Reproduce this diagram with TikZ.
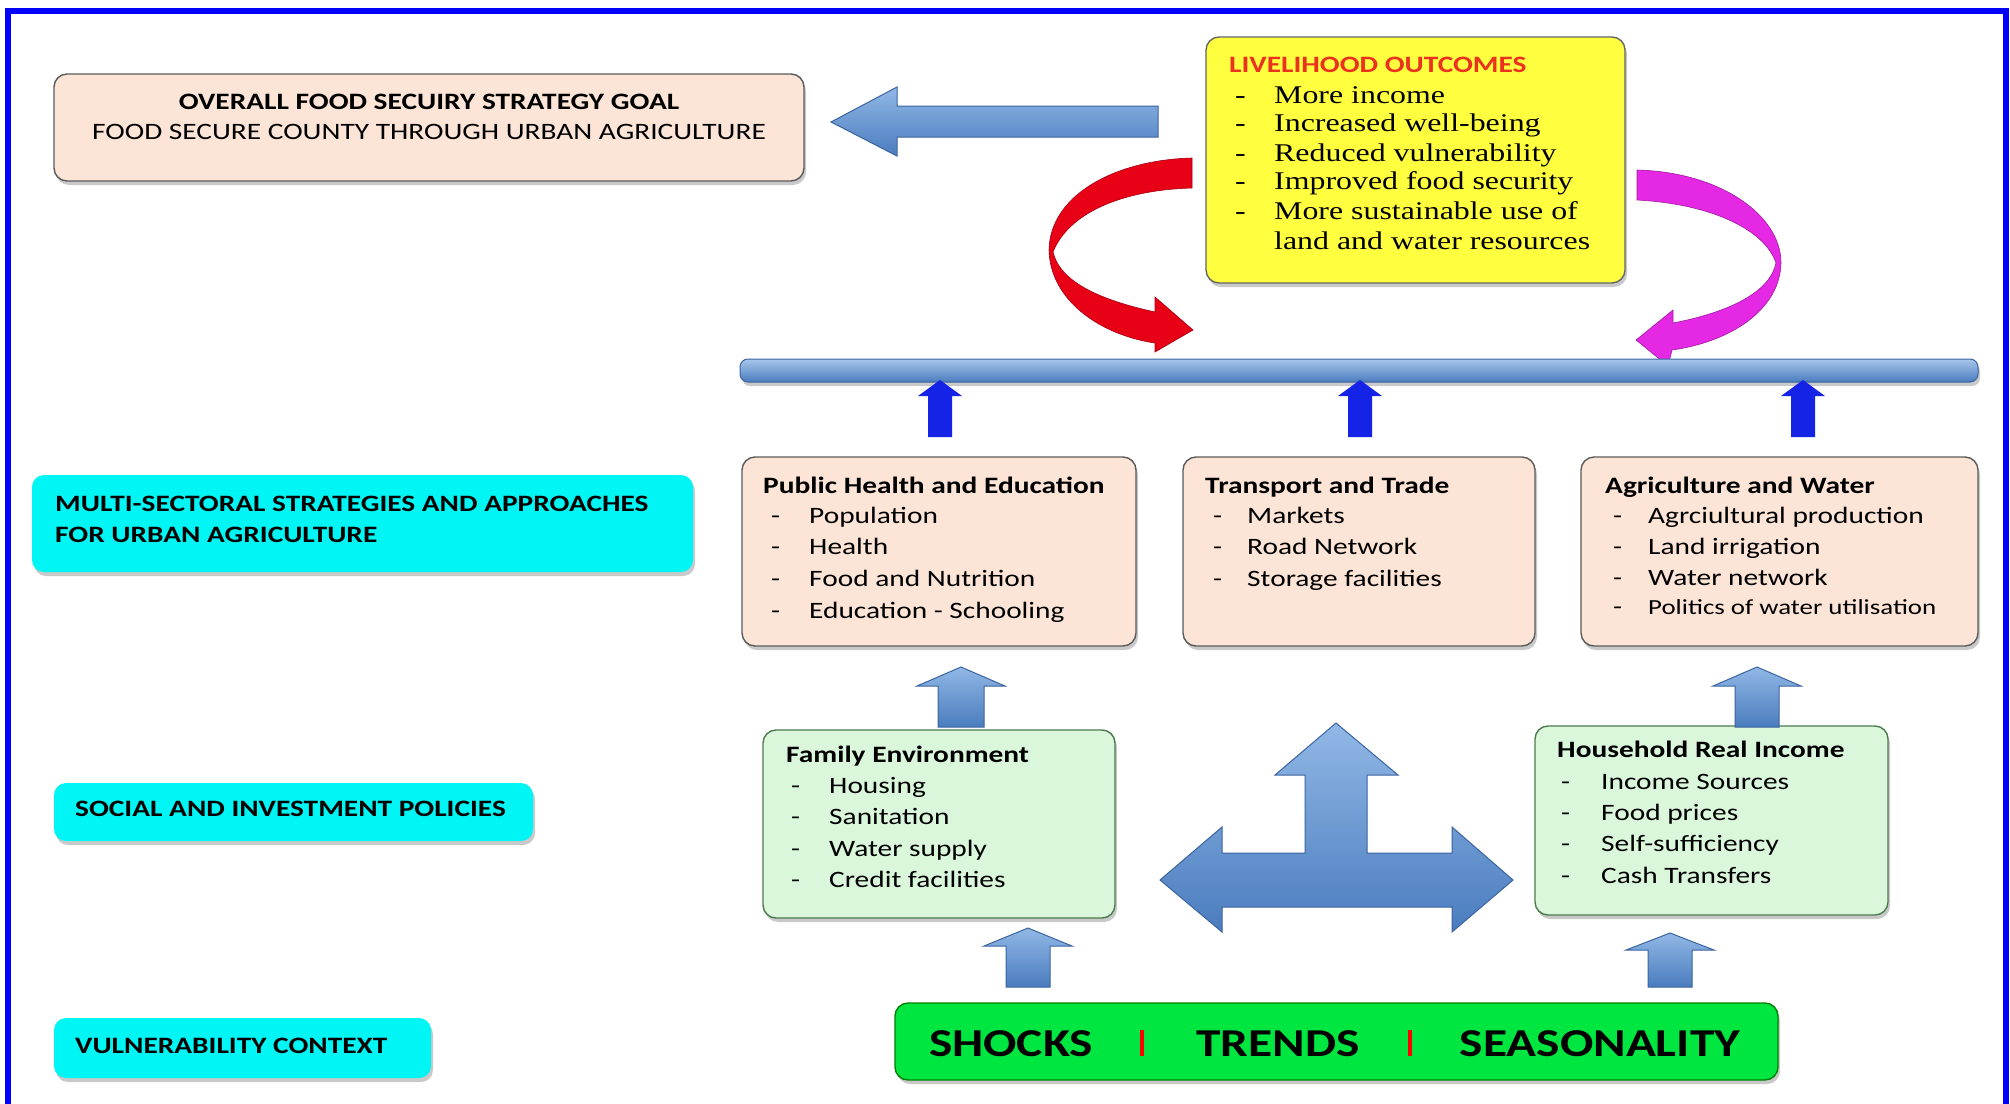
\documentclass[tikz,border=0pt]{standalone}
\usepackage{fontspec}
\setmainfont{Carlito}
\newfontfamily\seriffont{Liberation Serif}
\usepackage{graphicx}
\usetikzlibrary{shadows}
\definecolor{peach}{RGB}{252,228,214}
\definecolor{mint}{RGB}{218,247,220}
\definecolor{lemon}{RGB}{255,255,64}
\definecolor{aqua}{RGB}{0,245,245}
\definecolor{lime}{RGB}{0,230,64}
\definecolor{bluetop}{RGB}{145,184,230}
\definecolor{bluebot}{RGB}{74,124,190}
\definecolor{blueedge}{RGB}{60,100,160}
\definecolor{deepblue}{RGB}{20,35,230}
\definecolor{boxline}{RGB}{90,90,90}
\definecolor{arrred}{RGB}{232,0,22}
\definecolor{arrmag}{RGB}{228,40,228}
\definecolor{titlered}{RGB}{235,50,30}
\definecolor{frameblue}{RGB}{0,0,255}
\newcommand\sx[1]{\scalebox{1.25}[1]{#1}}
\newcommand\fs[1]{\fontsize{#1}{#1}\selectfont}
\newcommand\blockup[7]{%
  \path[#1] ({#2-#7},#5) -- ({#2-#7},#4) -- ({#2-#6},#4) -- (#2,#3) -- ({#2+#6},#4) -- ({#2+#7},#4) -- ({#2+#7},#5) -- cycle;}
\begin{document}
\begin{tikzpicture}[x=1pt,y=-1pt,
  txt/.style={anchor=west, inner sep=0pt, text height=17pt, text depth=5pt, font=\fs{23.5}},
  ttl/.style={txt, font=\fs{23.5}\bfseries},
  ctxt/.style={anchor=center, inner sep=0pt, text height=17pt, text depth=5pt, font=\fs{23.5}},
  sertxt/.style={anchor=west, inner sep=0pt, text height=18pt, text depth=6pt, font=\seriffont\fs{25.5}},
  shad/.style={drop shadow={opacity=0.35, shadow xshift=2pt, shadow yshift=-4pt, fill=black!60}},
  basebox/.style={draw=boxline, line width=1.4pt, rounded corners=13pt, inner sep=0pt, shad},
  pbox/.style={basebox, fill=peach},
  gbox/.style={basebox, fill=mint, draw=black!55!green!40!gray},
  ybox/.style={basebox, fill=lemon, draw=black!60},
  cbox/.style={rounded corners=12pt, fill=aqua, inner sep=0pt, shad},
  lbar/.style={draw=blueedge, line width=1pt, top color=bluetop, bottom color=bluebot},
  darr/.style={fill=deepblue},
  barstyle/.style={draw=blueedge, line width=1pt, rounded corners=8pt, top color=bluetop!80!white, bottom color=bluebot, inner sep=0pt, shad}
]
\useasboundingbox (0,0) rectangle (2010,1103);
\fill[white] (0,0) rectangle (2010,1103);
\draw[frameblue, line width=6pt] (8,11) rectangle (2006,1125);

% ---- goal box
\node[pbox, minimum width=750pt, minimum height=107pt] (goal) at (429,127.5) {};
\node[ctxt, font=\fs{23.5}\bfseries] (goalA) at (429,103) {\sx{OVERALL FOOD SECUIRY STRATEGY GOAL}};
\node[ctxt] (goalB) at (429,133) {\sx{FOOD SECURE COUNTY THROUGH URBAN AGRICULTURE}};

% ---- livelihood outcomes
\node[ybox, minimum width=419pt, minimum height=246pt] (live) at (1415.5,160) {};
\node[ttl, text=titlered] (liveT) at (1229,66) {\sx{LIVELIHOOD OUTCOMES}};
\foreach \t/\yy [count=\i] in {More income/97, Increased well-being/125, Reduced vulnerability/155, Improved food security/183, More sustainable use of/213}{
  \node[sertxt] (live-d\i) at (1235,\yy) {\sx{-}};
  \node[sertxt] (live-i\i) at (1274,\yy) {\sx{\t}};
}
\node[sertxt] (live-i6) at (1274,243) {\sx{land and water resources}};

% ---- left arrow to goal
\path[lbar] (831,122) -- (897,87) -- (897,106) -- (1158,106) -- (1158,137) -- (897,137) -- (897,156) -- cycle;

% ---- curved arrows
\path[fill=arrred, draw=arrred!70!black, line width=0.6pt]
  (1192,158) .. controls (1115,160) and (1050,195) .. (1049,250)
  .. controls (1050,300) and (1100,335) .. (1155,343)
  -- (1155,352) -- (1193,330) -- (1155,297) -- (1155,312)
  .. controls (1100,300) and (1060,282) .. (1053,252)
  .. controls (1068,214) and (1120,190) .. (1192,188) -- cycle;
\path[fill=arrmag, draw=arrmag!70!black, line width=0.6pt]
  (1637,170) .. controls (1720,172) and (1781,215) .. (1781,263)
  .. controls (1780,310) and (1730,342) .. (1672,350)
  -- (1668,366) -- (1636,340) -- (1673,310) -- (1673,323)
  .. controls (1730,312) and (1770,292) .. (1776,263)
  .. controls (1765,230) and (1712,204) .. (1637,200) -- cycle;

% ---- horizontal bar
\node[barstyle, minimum width=1238pt, minimum height=23pt] (bar) at (1359,370.5) {};

% ---- dark blue arrows into bar
\blockup{darr}{940}{380}{396}{437}{22}{12}
\blockup{darr}{1360}{380}{396}{437}{22}{12}
\blockup{darr}{1803}{380}{396}{437}{22}{12}

% ---- strategy boxes
\node[pbox, minimum width=394pt, minimum height=189pt] (phe) at (939,551.5) {};
\node[pbox, minimum width=352pt, minimum height=189pt] (trn) at (1359,551.5) {};
\node[pbox, minimum width=397pt, minimum height=189pt] (agr) at (1779.5,551.5) {};
\node[ttl] (pheT) at (763,487) {\sx{Public Health and Education}};
\foreach \t/\yy [count=\i] in {Population/517, Health/548, Food and Nutrition/580, Education - Schooling/612}{
  \node[txt] (phe-d\i) at (771,\yy) {\sx{-}};
  \node[txt] (phe-i\i) at (809,\yy) {\sx{\t}};
}
\node[ttl] (trnT) at (1205,487) {\sx{Transport and Trade}};
\foreach \t/\yy [count=\i] in {Markets/517, Road Network/548, Storage facilities/580}{
  \node[txt] (trn-d\i) at (1213,\yy) {\sx{-}};
  \node[txt] (trn-i\i) at (1247,\yy) {\sx{\t}};
}
\node[ttl] (agrT) at (1605,487) {\sx{Agriculture and Water}};
\foreach \t/\yy [count=\i] in {Agrciultural production/517, Land irrigation/548, Water network/579}{
  \node[txt] (agr-d\i) at (1613,\yy) {\sx{-}};
  \node[txt] (agr-i\i) at (1648,\yy) {\sx{\t}};
}
\node[txt] (agr-d4) at (1613,608) {\sx{-}};
\node[txt, font=\fs{21.5}] (agr-i4) at (1648,608) {\sx{Politics of water utilisation}};

% ---- policy boxes
\node[gbox, minimum width=352pt, minimum height=188pt] (fam) at (939,824) {};
\node[gbox, minimum width=353pt, minimum height=189pt] (hh) at (1711.5,820.5) {};
\node[ttl] (famT) at (786,756) {\sx{Family Environment}};
\foreach \t/\yy [count=\i] in {Housing/787, Sanitation/818, Water supply/850, Credit facilities/881}{
  \node[txt] (fam-d\i) at (791,\yy) {\sx{-}};
  \node[txt] (fam-i\i) at (829,\yy) {\sx{\t}};
}
\node[ttl] (hhT) at (1557,751) {\sx{Household Real Income}};
\foreach \t/\yy [count=\i] in {Income Sources/783, Food prices/814, Self-sufficiency/845, Cash Transfers/877}{
  \node[txt] (hh-d\i) at (1561,\yy) {\sx{-}};
  \node[txt] (hh-i\i) at (1601,\yy) {\sx{\t}};
}

% ---- light block arrows
\blockup{lbar}{961}{667}{686}{727}{44}{23}
\blockup{lbar}{1757}{667}{686}{727}{44}{22}
\blockup{lbar}{1028}{928}{946}{987}{44}{22}
\blockup{lbar}{1670}{933}{950}{987}{44}{22}

% ---- T arrow
\path[lbar] (1160,880) -- (1222,827) -- (1222,853) -- (1305,853) -- (1305,775) -- (1275,775)
  -- (1336,723) -- (1398,775) -- (1367,775) -- (1367,853) -- (1452,853) -- (1452,827)
  -- (1513,880) -- (1452,932) -- (1452,907) -- (1222,907) -- (1222,932) -- cycle;

% ---- shocks box
\node[basebox, fill=lime, draw=black!50!green, minimum width=883pt, minimum height=77pt] (shk) at (1336.5,1041.5) {};
\node[ctxt, font=\fs{39.5}\bfseries, text height=28pt, text depth=0pt] (shkA) at (1011,1042) {\sx{SHOCKS}};
\node[ctxt, font=\fs{39.5}\bfseries, text height=28pt, text depth=0pt] (shkB) at (1278,1042) {\sx{TRENDS}};
\node[ctxt, font=\fs{39.5}\bfseries, text height=28pt, text depth=0pt] (shkC) at (1600,1042) {\sx{SEASONALITY}};
\fill[red] (1140,1030) rectangle (1144,1056);
\fill[red] (1408,1030) rectangle (1412,1056);

% ---- cyan labels
\node[cbox, minimum width=661pt, minimum height=97pt] (cy1) at (362.5,523.5) {};
\node[ttl] (cy1A) at (55,505) {\sx{MULTI-SECTORAL STRATEGIES AND APPROACHES}};
\node[ttl] (cy1B) at (55,536) {\sx{FOR URBAN AGRICULTURE}};
\node[cbox, minimum width=479pt, minimum height=58pt] (cy2) at (293.5,812) {};
\node[ttl] (cy2A) at (75,810) {\sx{SOCIAL AND INVESTMENT POLICIES}};
\node[cbox, minimum width=377pt, minimum height=60pt] (cy3) at (242.5,1048) {};
\node[ttl] (cy3A) at (75,1047) {\sx{VULNERABILITY CONTEXT}};
\end{tikzpicture}
\end{document}
